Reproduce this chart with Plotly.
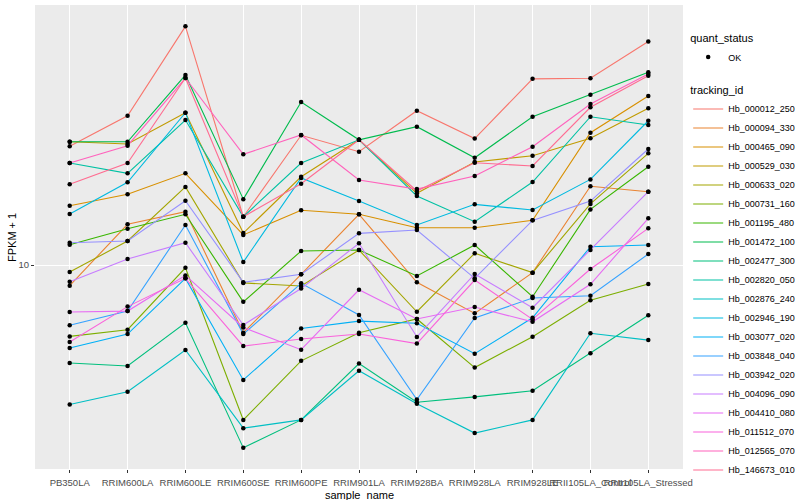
import plotly.graph_objects as go

samples = ["PB350LA", "RRIM600LA", "RRIM600LE", "RRIM600SE", "RRIM600PE", "RRIM901LA",
           "RRIM928BA", "RRIM928LA", "RRIM928LE", "RRII105LA_Control", "RRII105LA_Stressed"]

tracking_ids = ["Hb_000012_250", "Hb_000094_330", "Hb_000465_090", "Hb_000529_030",
                "Hb_000633_020", "Hb_000731_160", "Hb_001195_480", "Hb_001472_100",
                "Hb_002477_300", "Hb_002820_050", "Hb_002876_240", "Hb_002946_190",
                "Hb_003077_020", "Hb_003848_040", "Hb_003942_020", "Hb_004096_090",
                "Hb_004410_080", "Hb_011512_070", "Hb_012565_070", "Hb_146673_010"]

colors = ["#F8766D", "#EA8331", "#D89000", "#C09B00", "#A3A500", "#7CAE00", "#39B600",
          "#00BB4E", "#00BF7D", "#00C1A3", "#00BFC4", "#00BAE0", "#00B0F6", "#35A2FF",
          "#9590FF", "#C77CFF", "#E76BF3", "#FA62DB", "#FF62BC", "#FF6C91"]

# FPKM + 1 values per gene across samples
hb_000012_250 = [19.8, 23.6, 39.5, 13.2, 21.1, 19.2, 24.3, 20.7, 29.2, 29.3, 36.2]
hb_000094_330 = [8.88, 12.64, 13.59, 6.77, 9.48, 13.39, 9.05, 7.57, 9.57, 15.73, 15.25]
hb_000465_090 = [14.07, 15.02, 16.95, 11.89, 13.70, 13.39, 12.39, 12.39, 12.93, 21.42, 26.45]
hb_000529_030 = [20.33, 20.07, 24.03, 12.02, 16.62, 20.56, 15.11, 18.09, 18.76, 20.73, 24.64]
hb_000633_020 = [9.60, 11.48, 15.67, 9.02, 8.86, 10.90, 7.64, 10.70, 9.57, 14.21, 19.02]
hb_000731_160 = [6.63, 6.89, 9.84, 4.10, 5.76, 6.77, 7.33, 5.54, 6.62, 8.16, 8.96]
hb_001195_480 = [11.24, 12.32, 13.39, 8.09, 10.84, 10.90, 9.39, 11.22, 8.33, 13.77, 17.61]
hb_001472_100 = [20.33, 20.33, 29.85, 14.61, 25.55, 20.56, 22.17, 18.54, 23.48, 26.65, 30.32]
hb_002477_300 = [5.69, 5.59, 7.17, 3.49, 4.10, 5.67, 4.54, 4.68, 4.85, 6.02, 7.49]
hb_002820_050 = [17.99, 16.95, 23.03, 13.20, 17.99, 20.56, 14.88, 12.83, 16.12, 23.48, 22.39]
hb_002876_240 = [4.48, 4.82, 6.13, 3.91, 4.10, 5.44, 4.50, 3.80, 4.10, 6.75, 6.49]
hb_002946_190 = [13.41, 16.10, 24.03, 10.17, 16.50, 14.45, 12.59, 14.18, 13.72, 16.37, 22.94]
hb_003077_020 = [6.20, 6.72, 9.26, 5.16, 6.94, 7.24, 7.15, 6.00, 7.38, 11.11, 11.22]
hb_003848_040 = [7.07, 7.67, 12.59, 6.72, 9.00, 7.50, 4.61, 7.37, 8.27, 8.38, 10.65]
hb_003942_020 = [11.37, 11.48, 14.48, 9.05, 9.48, 12.00, 12.23, 9.26, 12.93, 14.45, 19.50]
hb_004096_090 = [9.08, 10.35, 11.37, 7.08, 8.73, 11.33, 6.61, 9.50, 7.82, 10.90, 15.25]
hb_004410_080 = [7.63, 7.67, 9.42, 6.98, 6.14, 8.67, 7.33, 7.85, 7.21, 8.95, 13.08]
hb_011512_070 = [6.42, 7.87, 9.26, 6.27, 6.53, 6.72, 6.36, 9.17, 7.31, 9.77, 12.35]
hb_012565_070 = [17.99, 19.87, 29.34, 18.91, 21.14, 16.31, 15.48, 16.69, 19.76, 25.26, 30.03]
hb_146673_010 = [15.91, 17.99, 29.34, 13.20, 15.97, 20.56, 15.31, 18.02, 17.68, 24.79, 29.74]

series = [hb_000012_250, hb_000094_330, hb_000465_090, hb_000529_030, hb_000633_020,
          hb_000731_160, hb_001195_480, hb_001472_100, hb_002477_300, hb_002820_050,
          hb_002876_240, hb_002946_190, hb_003077_020, hb_003848_040, hb_003942_020,
          hb_004096_090, hb_004410_080, hb_011512_070, hb_012565_070, hb_146673_010]

FONT = "Liberation Sans, Arial, sans-serif"

fig = go.Figure()
for name, col, vals in zip(tracking_ids, colors, series):
    fig.add_trace(go.Scatter(
        x=samples, y=vals, mode="lines", name=name,
        line=dict(color=col, width=1.1),
        legend="legend2", hoverinfo="skip"))

all_x, all_y = [], []
for vals in series:
    all_x += samples
    all_y += vals
fig.add_trace(go.Scatter(
    x=all_x, y=all_y, mode="markers", name="OK",
    marker=dict(color="black", size=4.5, symbol="circle"),
    legend="legend", hoverinfo="skip"))

fig.update_layout(
    width=800, height=500,
    margin=dict(l=35, r=117, t=5, b=31, autoexpand=False),
    paper_bgcolor="white", plot_bgcolor="#EBEBEB",
    font=dict(family=FONT, size=10, color="black"),
    showlegend=True,
    legend=dict(
        title=dict(text="quant_status", font=dict(size=11)),
        x=1.008, xanchor="left", y=0.95, yanchor="top",
        font=dict(size=9), itemwidth=30, bgcolor="rgba(0,0,0,0)"),
    legend2=dict(
        title=dict(text="tracking_id", font=dict(size=11)),
        x=1.008, xanchor="left", y=0.838, yanchor="top",
        font=dict(size=9), itemwidth=30, bgcolor="rgba(0,0,0,0)"),
    annotations=[
        dict(text="sample_name", xref="paper", yref="paper", x=0.5, y=-0.055,
             xanchor="center", yanchor="middle", showarrow=False,
             font=dict(size=11, color="black")),
        dict(text="FPKM + 1", xref="paper", yref="paper", x=-0.0355, y=0.5,
             xanchor="center", yanchor="middle", textangle=-90, showarrow=False,
             font=dict(size=11, color="black")),
    ],
)

fig.update_xaxes(
    type="category", categoryorder="array", categoryarray=samples,
    range=[-0.6, 10.6], showgrid=True, gridcolor="white", gridwidth=1.1,
    zeroline=False, ticks="outside", ticklen=3, tickcolor="#333333", tickwidth=1,
    tickangle=0, tickfont=dict(size=9.5, color="#4D4D4D"), ticklabelstandoff=2,
    automargin=False, showline=False)

fig.update_yaxes(
    type="log", range=[0.49, 1.65], tickvals=[10], ticktext=["10"],
    showgrid=True, gridcolor="white", gridwidth=1.1, zeroline=False,
    ticks="outside", ticklen=3, tickcolor="#333333", tickwidth=1,
    tickfont=dict(size=9.5, color="#4D4D4D"),
    automargin=False, showline=False)

fig.write_html(
    "out.html",
    config={"displayModeBar": False},
    post_script="document.body.style.margin='0';document.body.style.overflow='hidden';")
